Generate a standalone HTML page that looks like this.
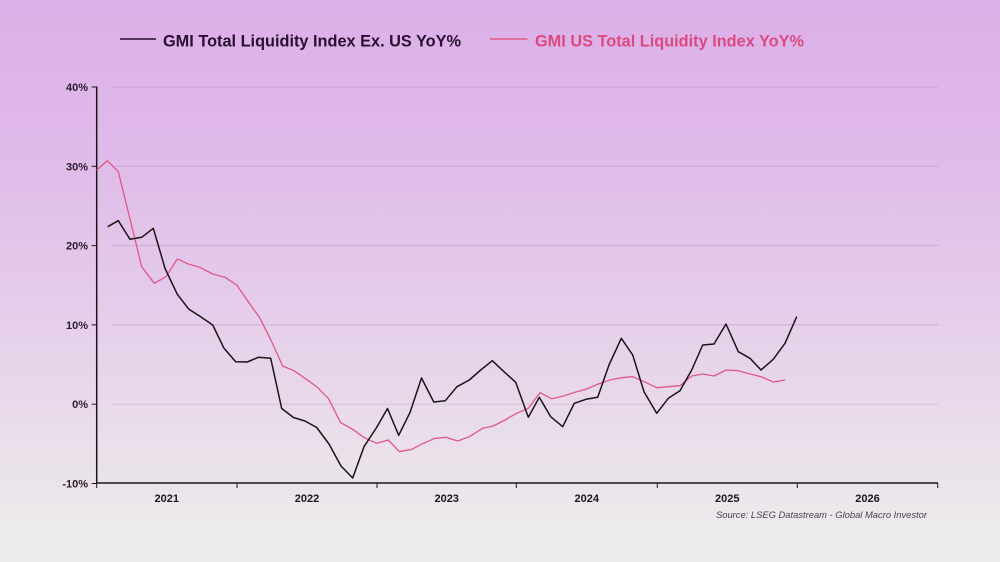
<!DOCTYPE html>
<html><head><meta charset="utf-8"><style>
html,body{margin:0;padding:0;}
body{width:1000px;height:562px;overflow:hidden;background:linear-gradient(180deg,#dcafe8 0%,#e0bce9 30%,#e5cdea 55%,#e9dcea 75%,#ecebeb 95%);font-family:"Liberation Sans",Arial,sans-serif;}
svg{position:absolute;left:0;top:0;}
</style></head><body>
<svg width="1000" height="562" viewBox="0 0 1000 562" xmlns="http://www.w3.org/2000/svg">
<!-- legend -->
<line x1="120" y1="39" x2="156" y2="39" stroke="#2a1030" stroke-width="1.5"/>
<text x="163" y="46.5" font-family="Liberation Sans, Arial, sans-serif" font-weight="bold" font-size="17" fill="#2a1030" textLength="298" lengthAdjust="spacingAndGlyphs">GMI Total Liquidity Index Ex. US YoY%</text>
<line x1="490" y1="39" x2="527.5" y2="39" stroke="#e05a88" stroke-width="1.5"/>
<text x="535" y="46.5" font-family="Liberation Sans, Arial, sans-serif" font-weight="bold" font-size="17" fill="#da4a80" textLength="269" lengthAdjust="spacingAndGlyphs">GMI US Total Liquidity Index YoY%</text>

<!-- gridlines -->
<g stroke="#b88cc4" stroke-opacity="0.45" stroke-width="1">
<line x1="112" y1="87" x2="938" y2="87"/>
<line x1="112" y1="166.3" x2="938" y2="166.3"/>
<line x1="112" y1="245.6" x2="938" y2="245.6"/>
<line x1="112" y1="324.9" x2="938" y2="324.9"/>
<line x1="112" y1="404.2" x2="938" y2="404.2" stroke-opacity="0.28"/>
</g>

<!-- axes -->
<g stroke="#1e1420" stroke-width="1.5" fill="none">
<line x1="96.7" y1="86.5" x2="96.7" y2="483.5"/>
<line x1="96" y1="483" x2="938" y2="483"/>
</g>
<g stroke="#1e1420" stroke-width="1">
<line x1="91.7" y1="87" x2="96.7" y2="87"/>
<line x1="91.7" y1="166.3" x2="96.7" y2="166.3"/>
<line x1="91.7" y1="245.6" x2="96.7" y2="245.6"/>
<line x1="91.7" y1="324.9" x2="96.7" y2="324.9"/>
<line x1="91.7" y1="404.2" x2="96.7" y2="404.2"/>
<line x1="91.7" y1="483.5" x2="96.7" y2="483.5"/>
<line x1="96.7" y1="483" x2="96.7" y2="488"/>
<line x1="237" y1="483" x2="237" y2="488"/>
<line x1="377" y1="483" x2="377" y2="488"/>
<line x1="516.3" y1="483" x2="516.3" y2="488"/>
<line x1="657.3" y1="483" x2="657.3" y2="488"/>
<line x1="797.3" y1="483" x2="797.3" y2="488"/>
<line x1="937.7" y1="483" x2="937.7" y2="488"/>
</g>

<!-- y labels -->
<g font-family="Liberation Sans, Arial, sans-serif" font-weight="bold" font-size="11" fill="#2a1a2c" text-anchor="end">
<text x="88" y="91">40%</text>
<text x="88" y="170.3">30%</text>
<text x="88" y="249.6">20%</text>
<text x="88" y="328.9">10%</text>
<text x="88" y="408.2">0%</text>
<text x="88" y="487.5">-10%</text>
</g>
<!-- x labels -->
<g font-family="Liberation Sans, Arial, sans-serif" font-weight="bold" font-size="11" fill="#1e1420" text-anchor="middle">
<text x="166.8" y="502">2021</text>
<text x="307" y="502">2022</text>
<text x="446.7" y="502">2023</text>
<text x="586.8" y="502">2024</text>
<text x="727.3" y="502">2025</text>
<text x="867.5" y="502">2026</text>
</g>
<text x="716" y="518" font-family="Liberation Sans, Arial, sans-serif" font-style="italic" font-size="9.5" fill="#4a4050" textLength="211" lengthAdjust="spacingAndGlyphs">Source: LSEG Datastream - Global Macro Investor</text>

<!-- pink series -->
<polyline fill="none" stroke="#e0588a" stroke-width="1.3" stroke-linejoin="round" points="96.7,170 107.3,160.7 118.3,171.7 130,219 141.7,266.7 154.3,283.3 166,276.7 177.3,259 189,264.3 200,267.3 212.7,274 225,277.3 236.7,285 248.3,301.7 260,318.3 271.7,341.7 282.7,366 294,370.7 305,378.3 316.7,386.7 328.3,398.3 340.7,422.7 352.7,429.3 364.3,437.7 376.7,443.3 388.3,440 399.3,451.7 411.7,449.3 423.3,443.3 435,438.3 446,437.3 457.7,441 469.3,436.7 482.7,428.3 493.3,426 505,420 516.7,413.3 528.3,408.3 540,392.7 551.7,398.7 563.3,396 575,392.3 586.7,389 598.3,384 610,380 621.7,377.7 632.7,376.7 644.3,381.7 656.7,387.7 668.3,386.7 680,385.7 691.7,376 702.7,374 714,376 726,370 738.3,370.7 750,374 761,376.7 773.3,382 785,380"/>

<!-- black series -->
<polyline fill="none" stroke="#1a1418" stroke-width="1.5" stroke-linejoin="round" points="107.7,226.7 118.3,220.7 130,239.3 141.7,237.3 153.3,228.3 165,268.3 177.3,294.3 189,309.3 200.7,316.7 212.7,325 224,348.3 235.7,361.7 247.3,362 258.3,357.3 270.7,358.3 281.7,408.5 293.5,417.5 305,421 316.7,427.5 329,444 341,466 352.7,478 364,446.7 376.3,428 387.5,408.5 398.7,435.3 410,412.5 421.5,378 433.8,402 445.3,400.7 457,386.7 469.3,380 480.7,370 492.3,360.7 504,371.7 515.7,382.3 528.3,417.3 539.3,397.3 550.7,416.7 562.7,426.7 574.3,403.3 586,399.3 597.7,397.3 609,365 621.3,338.3 632.7,355 644,391.7 656.7,413.3 668.3,398.3 680,390.7 691.7,370 702.7,345 714,344 726,324 738.3,351.7 750,358.3 761,370 773.3,359.3 785,343.3 796.7,316.7"/>
</svg>
</body></html>
